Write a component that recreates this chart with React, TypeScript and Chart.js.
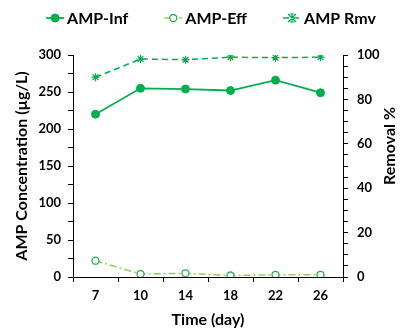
import React, { useEffect, useRef } from "react";
import { Chart, registerables } from "chart.js";
Chart.register(...registerables);

const categories = ["7", "10", "14", "18", "22", "26"];
const ampInf = [220, 255, 254, 252, 266, 249];
const ampEff = [22, 4, 5, 2, 3, 3];
const ampRmv = [90, 98.2, 97.9, 99, 98.8, 99];
const seriesNames = ["AMP-Inf", "AMP-Eff", "AMP Rmv"];
const rightTitle = "Removal %";

const FONT = "Lato, 'Open Sans', sans-serif";
const GREEN = "#00b050";
const LIGHT = "#92d050";

function drawMarker(ctx: CanvasRenderingContext2D, ds: any, x: number, y: number) {
  const r = ds.pointRadius;
  ctx.save();
  ctx.lineWidth = ds.pointBorderWidth ?? 1;
  ctx.strokeStyle = ds.pointBorderColor;
  ctx.fillStyle = ds.pointBackgroundColor;
  ctx.setLineDash([]);
  if (ds.pointStyle === "star") {
    ctx.beginPath();
    ctx.moveTo(x - r, y - r); ctx.lineTo(x + r, y + r);
    ctx.moveTo(x - r, y + r); ctx.lineTo(x + r, y - r);
    ctx.moveTo(x, y - r); ctx.lineTo(x, y + r);
    ctx.moveTo(x - r * 0.6, y - r); ctx.lineTo(x + r * 0.6, y - r);
    ctx.moveTo(x - r * 0.6, y + r); ctx.lineTo(x + r * 0.6, y + r);
    ctx.stroke();
  } else {
    ctx.beginPath();
    ctx.arc(x, y, r, 0, Math.PI * 2);
    ctx.fill();
    ctx.stroke();
  }
  ctx.restore();
}

const customPlugin = {
  id: "custom",
  afterDraw(chart: any) {
    const ctx: CanvasRenderingContext2D = chart.ctx;
    ctx.save();
    // legend
    ctx.font = `bold 16px ${FONT}`;
    ctx.textBaseline = "middle";
    const lineW = 18, gap = 3, itemGap = 36;
    const dss = chart.data.datasets;
    const widths = dss.map((d: any) => lineW + gap + ctx.measureText(d.label).width);
    const total = widths.reduce((a: number, b: number) => a + b, 0) + itemGap * (dss.length - 1);
    let x = 211 - total / 2;
    const y = 18;
    dss.forEach((ds: any, i: number) => {
      ctx.save();
      ctx.strokeStyle = ds.borderColor;
      ctx.lineWidth = ds.borderWidth;
      ctx.setLineDash(ds.borderDash || []);
      ctx.beginPath();
      ctx.moveTo(x, y);
      ctx.lineTo(x + lineW, y);
      ctx.stroke();
      ctx.restore();
      drawMarker(ctx, ds, x + lineW / 2, y);
      ctx.fillStyle = "#000";
      ctx.textAlign = "left";
      ctx.fillText(ds.label, x + lineW + gap, y + 1);
      x += widths[i] + itemGap;
    });
    // right title
    ctx.translate(390, 146);
    ctx.rotate(-Math.PI / 2);
    ctx.textAlign = "center";
    ctx.textBaseline = "middle";
    ctx.font = `bold 16px ${FONT}`;
    ctx.fillStyle = "#000";
    ctx.fillText(rightTitle, 0, 0);
    ctx.restore();
  },
};

export default function App() {
  const ref = useRef<HTMLCanvasElement>(null);
  useEffect(() => {
    document.body.style.margin = "0";
    const tickFont = { family: FONT, size: 13, weight: "bold" as const };
    const titleFont = { family: FONT, size: 16, weight: "bold" as const };
    const axisGrid = {
      drawOnChartArea: false,
      drawTicks: true,
      tickLength: 5,
      color: "#000",
      lineWidth: 1,
    };
    const chart = new Chart(ref.current!, {
      type: "line",
      data: {
        labels: categories,
        datasets: [
          {
            label: seriesNames[0],
            data: ampInf,
            yAxisID: "y",
            borderColor: GREEN,
            backgroundColor: GREEN,
            borderWidth: 1.8,
            pointStyle: "circle",
            pointRadius: 4,
            pointBackgroundColor: GREEN,
            pointBorderColor: GREEN,
            pointBorderWidth: 1,
          },
          {
            label: seriesNames[1],
            data: ampEff,
            yAxisID: "y",
            borderColor: LIGHT,
            backgroundColor: LIGHT,
            borderWidth: 1.5,
            borderDash: [7, 3, 2, 3],
            pointStyle: "circle",
            pointRadius: 3.5,
            pointBackgroundColor: "#fff",
            pointBorderColor: "#22b14c",
            pointBorderWidth: 1.3,
          },
          {
            label: seriesNames[2],
            data: ampRmv,
            yAxisID: "y1",
            borderColor: GREEN,
            backgroundColor: GREEN,
            borderWidth: 1.5,
            borderDash: [6, 4],
            pointStyle: "star",
            pointRadius: 4,
            pointBackgroundColor: GREEN,
            pointBorderColor: GREEN,
            pointBorderWidth: 1.2,
          },
        ] as any,
      },
      options: {
        animation: false,
        responsive: false,
        maintainAspectRatio: false,
        layout: { padding: { top: 55, left: 0, right: 0, bottom: 0 } },
        plugins: { legend: { display: false }, tooltip: { enabled: false } },
        elements: { line: { tension: 0 } },
        scales: {
          x: {
            type: "category",
            offset: true,
            grid: { ...axisGrid, offset: true },
            border: { color: "#000", width: 1 },
            ticks: { font: tickFont, color: "#000", padding: 6 },
            title: { display: true, text: "Time (day)", font: titleFont, color: "#000", padding: { top: 0, bottom: 2 } },
            afterFit: (s: any) => { s.height = 54; },
          },
          y: {
            position: "left",
            min: 0,
            max: 300,
            grid: axisGrid,
            border: { color: "#000", width: 1 },
            ticks: {
              stepSize: 25,
              autoSkip: false,
              font: tickFont,
              color: "#000",
              padding: 7,
              callback: (v: any) => (v % 50 === 0 ? String(v) : ""),
            },
            title: { display: true, text: "AMP Concentration (µg/L)", font: titleFont, color: "#000", padding: { top: 12, bottom: 0 } },
            afterFit: (s: any) => { s.width = 73; },
          },
          y1: {
            position: "right",
            min: 0,
            max: 100,
            grid: axisGrid,
            border: { color: "#000", width: 1 },
            ticks: {
              stepSize: 5,
              autoSkip: false,
              font: tickFont,
              color: "#000",
              padding: 9,
              callback: (v: any) => (v % 20 === 0 ? String(v) : ""),
            },
            afterFit: (s: any) => { s.width = 60; },
          },
        },
      } as any,
      plugins: [customPlugin],
    });
    return () => chart.destroy();
  }, []);
  return (
    <div style={{ width: 403, height: 331, background: "#fff" }}>
      <canvas ref={ref} width={403} height={331} style={{ display: "block" }} />
    </div>
  );
}
